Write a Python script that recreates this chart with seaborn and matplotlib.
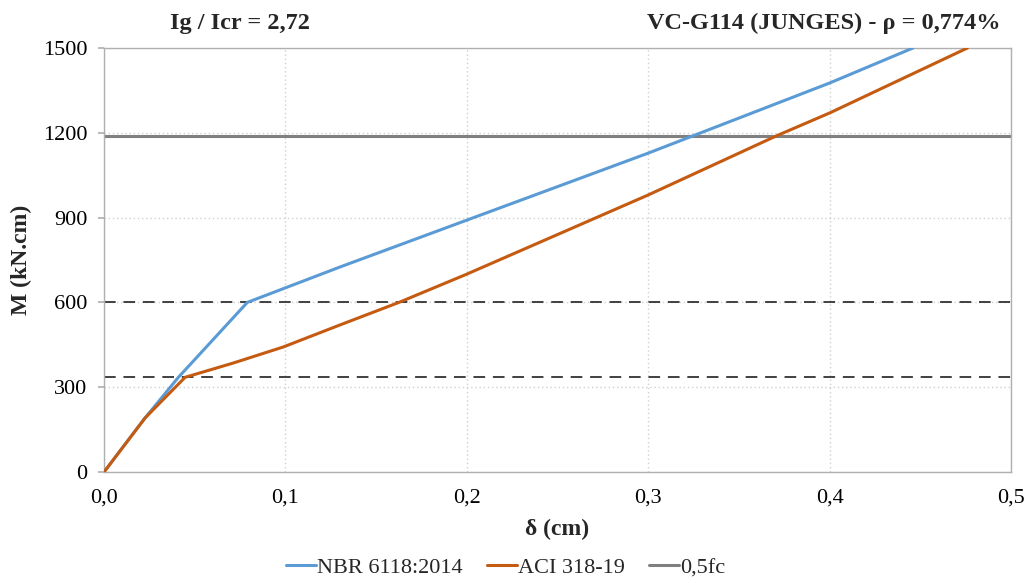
import matplotlib
matplotlib.use("Agg")
import matplotlib.pyplot as plt
from matplotlib.ticker import FuncFormatter
import seaborn as sns
import pandas as pd

# deflection (cm) / moment (kN.cm)
nbr_delta = [0.0, 0.0226, 0.041, 0.079, 0.130, 0.2, 0.3, 0.4, 0.446]
nbr_moment = [0, 191, 335, 600, 725, 891, 1128, 1376, 1500]

aci_delta = [0.0, 0.0226, 0.0447, 0.071, 0.0987, 0.130, 0.163, 0.2, 0.3, 0.371, 0.4, 0.476]
aci_moment = [0, 191, 335, 385, 442, 520, 601, 700, 980, 1190, 1270, 1500]

fc_half = 1190
ref_levels = [600, 336]

nbr = pd.DataFrame({"delta": nbr_delta, "M": nbr_moment})
aci = pd.DataFrame({"delta": aci_delta, "M": aci_moment})

sns.set_theme(style="white")
plt.rcParams["font.family"] = ["Liberation Serif", "DejaVu Serif"]

fig, ax = plt.subplots(figsize=(10.27, 5.83), dpi=100)
fig.subplots_adjust(left=0.1013, right=0.9844, top=0.9177, bottom=0.1904)

for lvl in ref_levels:
    ax.axhline(lvl, color="#404040", lw=1.4, ls=(0, (6, 4)), zorder=2)
ax.axhline(fc_half, color="#808080", lw=2.2, zorder=2, label="0,5fc")

sns.lineplot(data=nbr, x="delta", y="M", sort=False, color="#5B9BD5", lw=2.2,
             label="NBR 6118:2014", ax=ax, zorder=3)
sns.lineplot(data=aci, x="delta", y="M", sort=False, color="#C55A11", lw=2.2,
             label="ACI 318-19", ax=ax, zorder=3)

ax.set_xlim(0, 0.5)
ax.set_ylim(0, 1500)
ax.set_xticks([0, 0.1, 0.2, 0.3, 0.4, 0.5])
ax.set_yticks([0, 300, 600, 900, 1200, 1500])
ax.xaxis.set_major_formatter(FuncFormatter(lambda v, p: f"{v:.1f}".replace(".", ",")))
ax.grid(True, color="#D0D0D0", ls=(0, (1, 2)), lw=1)
for s in ax.spines.values():
    s.set_color("#B0B0B0")
    s.set_linewidth(1)
ax.tick_params(axis="both", labelsize=16, colors="black")
ax.tick_params(axis="x", pad=6)
ax.tick_params(axis="y", left=True, length=4, color="#B0B0B0", pad=8)

ax.set_xlabel("δ (cm)", fontsize=17, fontweight="bold", labelpad=8)
ax.set_ylabel("M (kN.cm)", fontsize=17, fontweight="bold", labelpad=8)

fig.text(0.234, 0.960, "Ig / Icr = 2,72", fontsize=17.5, fontweight="bold",
         ha="center", va="center")
fig.text(0.974, 0.960, "VC-G114 (JUNGES) - ρ = 0,774%", fontsize=17.5,
         fontweight="bold", ha="right", va="center")

h, l = ax.get_legend_handles_labels()
order = [l.index("NBR 6118:2014"), l.index("ACI 318-19"), l.index("0,5fc")]
ax.legend_.remove()
fig.legend([h[i] for i in order], [l[i] for i in order], loc="center",
           ncol=3, frameon=False, fontsize=16, bbox_to_anchor=(0.4925, 0.026),
           handlelength=1.35, handletextpad=0.05, columnspacing=1.1)

fig.savefig("out.png", dpi=100)
